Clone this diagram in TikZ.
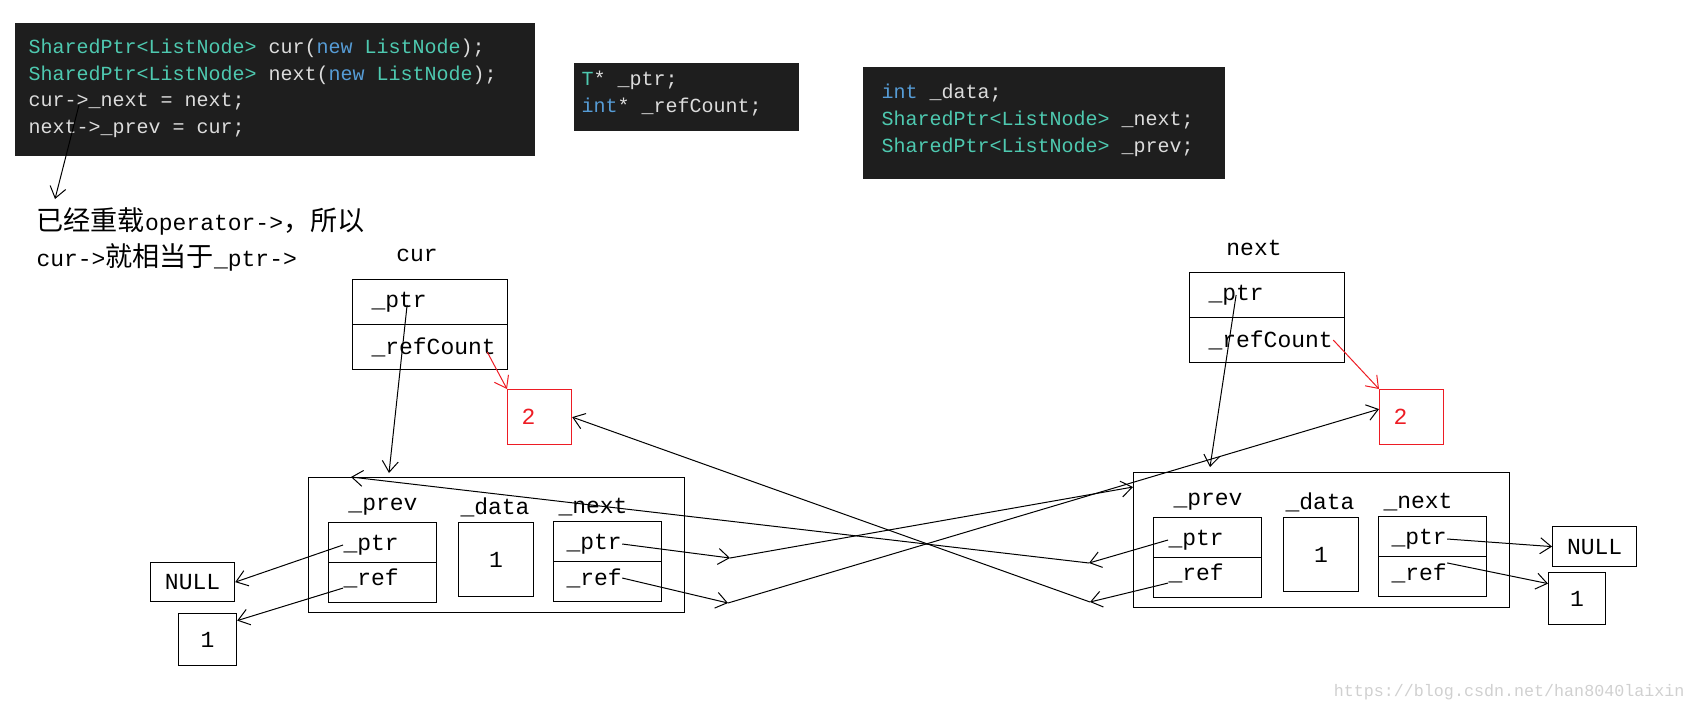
\documentclass[tikz,border=0pt]{standalone}
\usepackage{fontspec}
\setmainfont{Liberation Mono}
\newfontfamily\cjk[Scale=1.18]{Noto Sans CJK SC}
\usetikzlibrary{arrows.meta}

\definecolor{codebg}{RGB}{30,30,30}
\definecolor{codetxt}{RGB}{220,220,220}
\definecolor{codetype}{RGB}{78,201,176}
\definecolor{codekw}{RGB}{86,156,214}
\definecolor{cntred}{RGB}{237,28,36}
\definecolor{markgray}{RGB}{208,208,208}

\def\codesize{\fontsize{20}{27}\selectfont}
\def\lblsize{\fontsize{23}{27}\selectfont}

\begin{document}
\begin{tikzpicture}[x=1pt, y=-1pt, line width=1pt, >={Straight Barb[length=11pt,width=16pt]}]
    \tikzstyle{code}=[fill=codebg, draw=none, inner sep=0pt, anchor=north west]
    \tikzstyle{codeline}=[anchor=west, inner sep=0pt, text=codetxt, font=\codesize]
    \tikzstyle{cell}=[draw=black, line width=1.2pt, inner sep=0pt, anchor=north west, font=\lblsize]
    \tikzstyle{word}=[anchor=west, inner sep=0pt, font=\lblsize]
    \tikzstyle{count}=[draw=cntred, text=cntred, line width=1.2pt, anchor=north west, minimum height=55, text width=36, inner xsep=14, inner ysep=0pt, align=left, font=\lblsize]
    \tikzstyle{link}=[->, line width=1pt]

    \useasboundingbox (0,0) rectangle (1696,713);

    % code snippets
    \node[code, minimum width=520, minimum height=133] (main-code) at (14,22) {};
    \foreach \i/\txt in {1/{\textcolor{codetype}{SharedPtr<ListNode>} cur(\textcolor{codekw}{new} \textcolor{codetype}{ListNode});},
                         2/{\textcolor{codetype}{SharedPtr<ListNode>} next(\textcolor{codekw}{new} \textcolor{codetype}{ListNode});},
                         3/{cur->\_next = next;},
                         4/{next->\_prev = cur;}}
        \node[codeline] (main-\i) at (28,21+27*\i) {\txt};

    \node[code, minimum width=225, minimum height=68] (ptr-code) at (573,62) {};
    \foreach \i/\txt in {1/{\textcolor{codetype}{T}* \_ptr;},
                         2/{\textcolor{codekw}{int}* \_refCount;}}
        \node[codeline] (ptr-\i) at (581,53+27*\i) {\txt};

    \node[code, minimum width=362, minimum height=112] (node-code) at (862,66) {};
    \foreach \i/\txt in {1/{\textcolor{codekw}{int} \_data;},
                         2/{\textcolor{codetype}{SharedPtr<ListNode>} \_next;},
                         3/{\textcolor{codetype}{SharedPtr<ListNode>} \_prev;}}
        \node[codeline] (node-\i) at (881,66+27*\i) {\txt};

    % note
    \node[word] (note-1) at (36,221) {{\cjk 已经重载}operator->{\cjk ，所以}};
    \node[word] (note-2) at (36,257) {cur->{\cjk 就相当于}\_ptr->};
    \draw[link] ([xshift=51pt,yshift=-3pt]main-3.west) -- ([xshift=19pt,yshift=22pt]note-1.west);

    % shared pointers
    \foreach \name/\x/\y in {cur/352/279, next/1189/272} {
        \node[font=\lblsize] (\name-lbl) at (\x+65,\y-24) {\name};
        \node[cell, minimum width=155, minimum height=45] (\name-top) at (\x,\y) {};
        \node[cell, minimum width=155, minimum height=45] (\name-bot) at (\x,\y+45) {};
        \node[word] (\name-ptr) at (\x+19,\y+23) {\_ptr};
        \node[word] (\name-rc) at (\x+19,\y+68) {\_refCount};
    }
    \node[count] (cur-cnt) at (507,389) {2};
    \node[count] (next-cnt) at (1379,389) {2};

    % list nodes
    \foreach \name/\x/\y in {L/308/477, R/1133/472} {
        \node[cell, minimum width=376, minimum height=135] (\name-box) at (\x,\y) {};
        \node[font=\lblsize] (\name-plbl) at (\x+75,\y+30) {\_prev};
        \node[font=\lblsize] (\name-dlbl) at (\x+187,\y+30) {\_data};
        \node[font=\lblsize] (\name-nlbl) at (\x+285,\y+30) {\_next};
        \node[cell, minimum width=108, minimum height=40] (\name-prev1) at (\x+20,\y+45) {};
        \node[cell, minimum width=108, minimum height=40] (\name-prev2) at (\x+20,\y+85) {};
        \node[cell, minimum width=75, minimum height=74] (\name-data) at (\x+150,\y+45) {1};
        \node[cell, minimum width=108, minimum height=40] (\name-next1) at (\x+245,\y+44) {};
        \node[cell, minimum width=108, minimum height=40] (\name-next2) at (\x+245,\y+84) {};
        \node[word] (\name-pptr) at (\x+35,\y+68) {\_ptr};
        \node[word] (\name-pref) at (\x+35,\y+101) {\_ref};
        \node[word] (\name-nptr) at (\x+258,\y+67) {\_ptr};
        \node[word] (\name-nref) at (\x+258,\y+101) {\_ref};
    }

    \node[cell, minimum width=84, minimum height=39] (L-null) at (150,562) {NULL};
    \node[cell, minimum width=58, minimum height=52] (L-one) at (178,613) {1};
    \node[cell, minimum width=84, minimum height=40] (R-null) at (1552,526) {NULL};
    \node[cell, minimum width=57, minimum height=52] (R-one) at (1548,572) {1};

    \coordinate (L-hop1) at (730,558);
    \coordinate (L-hop2) at (728,603);
    \coordinate (R-hop1) at (1089,563);
    \coordinate (R-hop2) at (1090,602);

    % pointers
    \draw[link] ([xshift=8pt,yshift=-3pt]cur-ptr.center) -- ([xshift=81pt,yshift=4pt]L-box.north west);
    \draw[link] (next-ptr.center) -- ([xshift=77pt,yshift=5pt]R-box.north west);
    \draw[link, draw=cntred] ([xshift=-9pt,yshift=-5pt]cur-rc.east) -- (cur-cnt.north west);
    \draw[link, draw=cntred] (next-rc.east) -- (next-cnt.north west);

    \draw[link] (L-pptr.west) -- (L-null.east);
    \draw[link] (L-pref.south west) -- ([yshift=19pt]L-one.east);
    \draw[link] (L-nptr.east) -- (L-hop1);
    \draw[link] (L-hop1) -- ([yshift=-15pt]R-box.north west);
    \draw[link] (L-nref.east) -- (L-hop2);
    \draw[link] (L-hop2) -- ([yshift=8pt]next-cnt.west);

    \draw[link] (R-pptr.west) -- (R-hop1);
    \draw[link] (R-hop1) -- ([xshift=43pt]L-box.north west);
    \draw[link] (R-pref.south west) -- (R-hop2);
    \draw[link] (R-hop2) -- (cur-cnt.east);
    \draw[link] (R-nptr.east) -- (R-null.west);
    \draw[link] (R-nref.north east) -- ([yshift=15pt]R-one.west);

    \node[anchor=east, inner sep=0pt, text=markgray, font=\fontsize{16.7}{20}\selectfont] (mark) at (1685,692) {https://blog.csdn.net/han8040laixin};
\end{tikzpicture}
\end{document}
